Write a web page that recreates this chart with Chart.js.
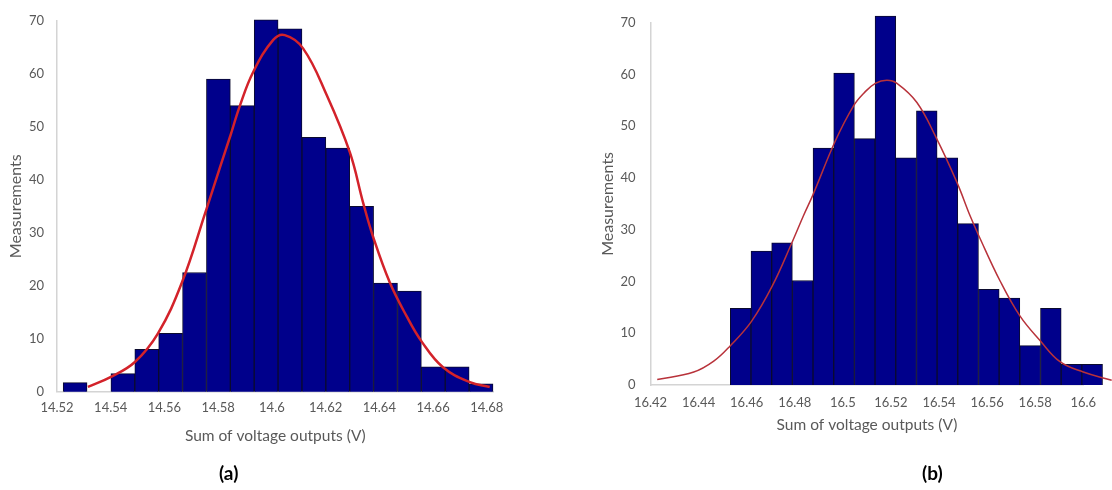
<!DOCTYPE html>
<html>
<head>
<meta charset="utf-8">
<script src="https://cdn.jsdelivr.net/npm/chart.js@4.4.1/dist/chart.umd.min.js"></script>
<style>
  html, body { margin: 0; padding: 0; background: #fff; }
  #wrap { position: relative; width: 1112px; height: 490px; overflow: hidden; }
  .panel { position: absolute; top: 0; height: 490px; }
  #pa { left: 0; width: 560px; }
  #pb { left: 560px; width: 552px; }
  .tag { position: absolute; top: 461px; line-height: 22px; font: 700 19px Lato, "Liberation Sans", sans-serif; color: #000; }
</style>
</head>
<body>
<div id="wrap">
  <div class="panel" id="pa"><canvas id="ca"></canvas></div>
  <div class="panel" id="pb"><canvas id="cb"></canvas></div>
  <div class="tag" style="left:219px">(a)</div>
  <div class="tag" style="left:922px">(b)</div>
</div>
<script>
// ---- Panel (a): histogram bin centres (V) and counts ----
const binsA = [14.52674, 14.53563, 14.54452, 14.55341, 14.56230, 14.57119, 14.58008, 14.58897, 14.59786,
               14.60675, 14.61564, 14.62453, 14.63342, 14.64231, 14.65120, 14.66009, 14.66898, 14.67787];
const countsA = [1.7, 0, 3.4, 8, 11, 22.5, 59, 54, 70.2, 68.5, 48, 46, 35, 20.5, 19, 4.7, 4.7, 1.5];

// Panel (a): fitted normal curve
const fitXA = [14.5315, 14.5401, 14.5490, 14.5576, 14.5665, 14.5754, 14.5807, 14.5846, 14.5881, 14.5930,
               14.6005, 14.6048, 14.6116, 14.6204, 14.6290, 14.6340, 14.6377, 14.6439, 14.6501, 14.6557,
               14.6637, 14.6737, 14.6811];
const fitYA = [0.9, 2.8, 5.6, 11.0, 20.6, 34.1, 42.4, 48.4, 54.0, 60.3,
               66.4, 67.3, 64.8, 56.0, 45.2, 35.6, 29.2, 20.6, 14.3, 9.5,
               4.6, 1.8, 0.9];

const xTicksA = [14.52, 14.54, 14.56, 14.58, 14.60, 14.62, 14.64, 14.66, 14.68];
const xLabelsA = ['14.52', '14.54', '14.56', '14.58', '14.6', '14.62', '14.64', '14.66', '14.68'];

// ---- Panel (b): histogram bin centres (V) and counts ----
const binsB = [16.4575, 16.4661, 16.4747, 16.4833, 16.4919, 16.5005, 16.5091, 16.5177, 16.5263,
               16.5349, 16.5435, 16.5521, 16.5607, 16.5693, 16.5779, 16.5865, 16.5951, 16.6037];
const countsB = [14.8, 25.9, 27.5, 20.2, 45.8, 60.3, 47.6, 71.3, 43.9, 53, 43.9, 31.2, 18.5, 16.8, 7.6, 14.8, 4.0, 4.0];

// Panel (b): fitted normal curve
const fitXB = [16.4228, 16.4380, 16.4463, 16.4532, 16.4620, 16.4706, 16.4789, 16.4837, 16.4876, 16.4969,
               16.5045, 16.5087, 16.5135, 16.5183, 16.5225, 16.5308, 16.5388, 16.5474, 16.5530, 16.5564,
               16.5654, 16.5737, 16.5820, 16.5903, 16.6000, 16.6118];
const fitYB = [1.05, 2.5, 4.6, 7.6, 12.3, 19.1, 27.6, 32.8, 36.8, 47.2,
               54.0, 56.4, 58.3, 58.9, 58.3, 54.6, 47.8, 39.2, 32.6, 29.0,
               20.1, 13.3, 8.6, 4.5, 2.5, 0.9];

const xTicksB = [16.42, 16.44, 16.46, 16.48, 16.50, 16.52, 16.54, 16.56, 16.58, 16.60];
const xLabelsB = ['16.42', '16.44', '16.46', '16.48', '16.5', '16.52', '16.54', '16.56', '16.58', '16.6'];

// Shared count axis
const yTicks = [0, 10, 20, 30, 40, 50, 60, 70];

const axisTitle = 'Sum of voltage outputs (V)';
const countTitle = 'Measurements';

const FONT = 'Lato, "Liberation Sans", sans-serif';
const GREY_TEXT = '#595959';
const AXIS_LINE = '#d4d4d4';
const BAR_FILL = '#00008b';
const BAR_EDGE = '#0b0b2e';

function histogram(canvasId, p) {
  const bars = p.bins.map((x, i) => ({ x: x, y: p.counts[i] }));
  const curve = p.fitX.map((x, i) => ({ x: x, y: p.fitY[i] }));
  return new Chart(document.getElementById(canvasId), {
    type: 'bar',
    data: {
      datasets: [
        {
          type: 'line',
          data: curve,
          borderColor: p.lineColor,
          borderWidth: p.lineWidth,
          pointRadius: 0,
          tension: 0.4,
          fill: false,
          clip: false,
          order: 0
        },
        {
          type: 'bar',
          data: bars,
          backgroundColor: BAR_FILL,
          borderColor: BAR_EDGE,
          borderWidth: 1,
          borderSkipped: 'bottom',
          barPercentage: 1.0,
          categoryPercentage: 1.0,
          clip: false,
          order: 1
        }
      ]
    },
    options: {
      responsive: true,
      maintainAspectRatio: false,
      animation: false,
      devicePixelRatio: 1,
      layout: { padding: p.padding },
      plugins: { legend: { display: false }, tooltip: { enabled: false } },
      scales: {
        x: {
          type: 'linear',
          offset: false,
          bounds: 'data',
          // range fixed after the data limits so that the fitted curve and
          // the last bins may run past the end of the axis line
          afterDataLimits: (axis) => { axis.min = p.xMin; axis.max = p.xMax; },
          afterBuildTicks: (axis) => { axis.ticks = p.xTicks.map(v => ({ value: v })); },
          afterFit: (axis) => { axis.height = p.xAxisHeight; },
          grid: { display: false, drawTicks: false },
          border: { display: true, color: AXIS_LINE, width: 1.5 },
          ticks: {
            padding: p.xTickPad,
            maxRotation: 0,
            autoSkip: false,
            color: GREY_TEXT,
            font: { family: FONT, size: 13 },
            callback: (v) => {
              const i = p.xTicks.findIndex(t => Math.abs(t - v) < 1e-6);
              return i >= 0 ? p.xLabels[i] : '';
            }
          },
          title: {
            display: true,
            text: axisTitle,
            color: GREY_TEXT,
            font: { family: FONT, size: 15.5 },
            padding: { top: 0, bottom: p.xTitlePad }
          }
        },
        y: {
          min: 0,
          max: 70,
          afterBuildTicks: (axis) => { axis.ticks = yTicks.map(v => ({ value: v })); },
          afterFit: (axis) => { axis.width = p.yAxisWidth; },
          grid: { display: false, drawTicks: false },
          border: { display: true, color: AXIS_LINE, width: 1.5 },
          ticks: {
            padding: p.yTickPad,
            color: GREY_TEXT,
            font: { family: FONT, size: 13 }
          },
          title: {
            display: true,
            text: countTitle,
            color: GREY_TEXT,
            font: { family: FONT, size: 16 },
            padding: { top: p.yTitlePad, bottom: 0 }
          }
        }
      }
    }
  });
}

histogram('ca', {
  bins: binsA, counts: countsA, fitX: fitXA, fitY: fitYA,
  xTicks: xTicksA, xLabels: xLabelsA, xMin: 14.52, xMax: 14.6825,
  lineColor: '#d3222a', lineWidth: 2.5,
  padding: { left: 0, top: 12, right: 66.5, bottom: 0 },
  yAxisWidth: 57, xAxisHeight: 98.3,
  yTickPad: 13, xTickPad: 8, yTitlePad: 6, xTitlePad: 45
});

histogram('cb', {
  bins: binsB, counts: countsB, fitX: fitXB, fitY: fitYB,
  xTicks: xTicksB, xLabels: xLabelsB, xMin: 16.42, xMax: 16.60,
  lineColor: '#b8323a', lineWidth: 1.5,
  padding: { left: 0, top: 7, right: 28.7, bottom: 0 },
  yAxisWidth: 90.5, xAxisHeight: 105,
  yTickPad: 15, xTickPad: 10, yTitlePad: 38, xTitlePad: 56
});
</script>
</body>
</html>
